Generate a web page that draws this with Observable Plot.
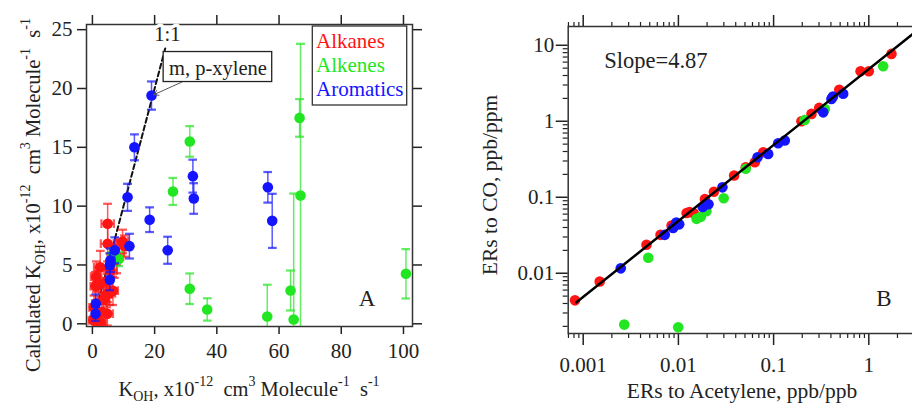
<!DOCTYPE html>
<html><head><meta charset="utf-8">
<script src="https://cdn.jsdelivr.net/npm/d3@7"></script>
<script src="https://cdn.jsdelivr.net/npm/@observablehq/plot@0.6"></script>
<style>
html,body{margin:0;padding:0;background:#fff;overflow:hidden;}
#wrap{display:flex;width:912px;height:405px;overflow:hidden;}
#wrap svg{flex:none;display:block;}
</style></head><body><div id="wrap"></div>
<script>
const FONT = "'Liberation Serif', 'Times New Roman', serif";
const categories = ["Alkanes", "Alkenes", "Aromatics"];
const colors = ["#ff1414", "#22e622", "#1414ff"];

// ---------- Panel A: measured vs calculated kOH ----------
// Alkanes: x, y, y-error, x-error
const alkKoh  = [0.3, 0.8, 2.0, 2.6, 0.5, 4.8, 3.0, 3.6, 1.0, 1.2, 2.5, 2.0, 4.3, 4.5, 5.5, 6.6, 5.8, 4.9, 4.9, 7.0, 7.9, 9.7, 10.3];
const alkCalc = [0.3, 0.4, 0.2, 0.15, 1.4, 0.85, 1.0, 2.0, 3.2, 4.0, 4.8, 3.3, 3.6, 2.5, 2.6, 2.8, 4.5, 8.5, 6.8, 5.3, 5.7, 7.0, 6.6];
const alkErr  = [0.9, 0.8, 0.9, 0.9, 1.0, 1.0, 1.0, 1.1, 1.2, 1.3, 1.4, 1.2, 1.2, 1.1, 1.0, 1.2, 1.4, 1.7, 1.5, 1.4, 1.4, 1.0, 0.9];
const alkXErr = [1.5, 1.5, 1.8, 1.8, 1.5, 1.8, 1.5, 1.8, 1.6, 1.7, 2.0, 1.8, 2.0, 1.8, 1.8, 1.6, 2.0, 2.0, 2.2, 1.8, 2.0, 1.8, 1.8];
// Alkenes
const aleKoh  = [6.5, 8.5, 25.9, 31.3, 31.3, 36.9, 56.2, 63.7, 64.7, 66.6, 66.9, 100.8];
const aleCalc = [5.9, 5.5, 11.25, 15.5, 2.98, 1.22, 0.62, 2.83, 0.37, 17.5, 10.9, 4.25];
const aleErr  = [0.5, 0.6, 1.15, 1.3, 1.3, 0.95, 2.7, 1.7, 10.7, 1.6, 12.9, 2.1];
// Aromatics
const aroKoh  = [1.0, 1.1, 5.6, 5.6, 5.8, 7.2, 11.9, 11.3, 13.5, 19.0, 18.4, 24.2, 32.3, 32.6, 56.4, 57.8];
const aroCalc = [0.85, 1.7, 3.75, 5.0, 5.4, 6.25, 6.6, 10.75, 15.0, 19.4, 8.85, 6.25, 12.55, 10.65, 11.6, 8.75];
const aroErr  = [0.6, 0.8, 0.9, 1.0, 1.0, 1.1, 1.05, 1.15, 1.1, 1.2, 1.05, 1.15, 1.4, 1.3, 1.3, 2.3];

const xTicksA = [0, 20, 40, 60, 80, 100];
const yTicksA = [0, 5, 10, 15, 20, 25];
const oneToOneEnd = 23.4;
// annotation anchors (data units of panel A)
const xyleneBox = {x1: 22.9, x2: 57.8, y1: 20.55, y2: 23.1, label: "m, p-xylene"};
const xylenePoint = {x: 19.7, y: 19.47, fromX: 28.8, fromY: 20.55};
const oneToOneLabel = {x: 24.1, y: 24.6, label: "1:1"};

// ---------- Panel B: emission ratios ----------
const alkAcet = [0.00082, 0.00149, 0.00462, 0.00649, 0.00848, 0.0122, 0.0131, 0.0145, 0.0190, 0.0236, 0.0385, 0.051, 0.0635, 0.0778, 0.196, 0.25, 0.301, 0.489, 0.819, 1.0, 1.73];
const alkCO   = [0.0044, 0.0078, 0.0237, 0.032, 0.0425, 0.062, 0.064, 0.0616, 0.095, 0.118, 0.193, 0.248, 0.289, 0.391, 1.0, 1.25, 1.5, 2.59, 4.55, 4.55, 7.7];
const aleAcet = [0.0027, 0.00482, 0.00995, 0.0155, 0.0172, 0.0197, 0.0299, 0.051, 0.212, 0.345, 1.415];
const aleCO   = [0.00211, 0.016, 0.00195, 0.052, 0.0552, 0.0655, 0.097, 0.237, 1.04, 1.45, 5.3];
const aroAcet = [0.00248, 0.00719, 0.0088, 0.0095, 0.0102, 0.0180, 0.0207, 0.029, 0.0678, 0.0877, 0.1117, 0.131, 0.332, 0.405, 0.42, 0.538];
const aroCO   = [0.0116, 0.032, 0.0395, 0.0465, 0.044, 0.0745, 0.081, 0.135, 0.336, 0.372, 0.514, 0.557, 1.31, 1.97, 2.12, 2.3];
const slope = 4.87;
const fitRange = [0.00085, 4];
const xMajorB = [0.001, 0.01, 0.1, 1];
const xMajorLabelsB = ["0.001", "0.01", "0.1", "1"];
const yMajorB = [0.01, 0.1, 1, 10];
const yMajorLabelsB = ["0.01", "0.1", "1", "10"];

// ---------- build tables ----------
const rowsA = [];
alkKoh.forEach((x, i) => rowsA.push({cat: "Alkanes", x, y: alkCalc[i], ey: alkErr[i], ex: alkXErr[i]}));
aleKoh.forEach((x, i) => rowsA.push({cat: "Alkenes", x, y: aleCalc[i], ey: aleErr[i], ex: 0}));
aroKoh.forEach((x, i) => rowsA.push({cat: "Aromatics", x, y: aroCalc[i], ey: aroErr[i], ex: 0}));
const rowsB = [];
alkAcet.forEach((x, i) => rowsB.push({cat: "Alkanes", x, y: alkCO[i]}));
aleAcet.forEach((x, i) => rowsB.push({cat: "Alkenes", x, y: aleCO[i]}));
aroAcet.forEach((x, i) => rowsB.push({cat: "Aromatics", x, y: aroCO[i]}));

const style = {fontFamily: FONT, fontSize: "21px", color: "#222", background: "white", overflow: "visible"};
const colorScale = {domain: categories, range: colors};
const labelOf = (ticks, labels) => d => {
  const i = ticks.findIndex(t => Math.abs(t - d) / t < 1e-6);
  return i < 0 ? "" : labels[i];
};

function catMarksA(cat) {
  const d = rowsA.filter(r => r.cat === cat);
  const marks = [
    Plot.link(d, {x1: "x", x2: "x", y1: r => r.y - r.ey, y2: r => r.y + r.ey, stroke: "cat", strokeOpacity: 0.7, strokeWidth: 1.5, markerStart: "tick", markerEnd: "tick", clip: true})
  ];
  if (cat === "Alkanes") {
    marks.push(Plot.link(d, {y1: "y", y2: "y", x1: r => r.x - r.ex, x2: r => r.x + r.ex, stroke: "cat", strokeOpacity: 0.7, strokeWidth: 1.5, markerStart: "tick", markerEnd: "tick", clip: true}));
  }
  marks.push(Plot.dot(d, {x: "x", y: "y", fill: "cat", r: 5.3, clip: true}));
  return marks;
}

const plotA = Plot.plot({
  width: 456, height: 405,
  marginLeft: 86, marginRight: 44, marginTop: 24, marginBottom: 79,
  x: {domain: [-1.9, 102.9]},
  y: {domain: [-0.23, 25.44]},
  color: colorScale,
  style,
  marks: [
    Plot.axisX({anchor: "bottom", ticks: xTicksA, tickSize: 8, tickPadding: 9, label: null, strokeWidth: 1.5}),
    Plot.axisX({anchor: "top", ticks: xTicksA, tickSize: 10, tickFormat: () => "", label: null, strokeWidth: 1.5}),
    Plot.axisY({anchor: "left", ticks: yTicksA, tickSize: 9, tickPadding: 5, label: null, strokeWidth: 1.5}),
    Plot.axisY({anchor: "right", ticks: yTicksA, tickSize: 9, tickFormat: () => "", label: null, strokeWidth: 1.5}),
    Plot.frame({stroke: "#333", strokeWidth: 1.5}),
    Plot.line([[0, 0], [oneToOneEnd, oneToOneEnd]], {stroke: "#111", strokeWidth: 2, strokeDasharray: "5,3"}),
    ...catMarksA("Alkanes"),
    ...catMarksA("Alkenes"),
    ...catMarksA("Aromatics"),
    Plot.arrow([xylenePoint], {x1: "fromX", y1: "fromY", x2: "x", y2: "y", stroke: "#555", strokeWidth: 1, headLength: 8}),
    Plot.rect([xyleneBox], {x1: "x1", x2: "x2", y1: "y1", y2: "y2", fill: "white", stroke: "#222", strokeWidth: 1.3}),
    Plot.text([xyleneBox], {x: d => (d.x1 + d.x2) / 2, y: d => (d.y1 + d.y2) / 2, text: "label", fill: "#222", fontSize: 20.5, dy: 1}),
    Plot.text([oneToOneLabel], {x: "x", y: "y", text: "label", fill: "#222", stroke: "white", strokeWidth: 7, fontSize: 20.5})
  ]
});

function minorTicks(lo, hi) {
  const out = [];
  for (let e = Math.floor(Math.log10(lo)); e <= Math.ceil(Math.log10(hi)); e++) {
    for (let m = 2; m <= 9; m++) { const v = m * Math.pow(10, e); if (v >= lo && v <= hi) out.push(v); }
  }
  return out;
}
const xDomB = [Math.pow(10, -3.1576), Math.pow(10, 0.501)];
const yDomB = [Math.pow(10, -2.793), Math.pow(10, 1.247)];

const plotB = Plot.plot({
  width: 480, height: 405,
  marginLeft: 111.7, marginRight: 20, marginTop: 26, marginBottom: 72,
  x: {type: "log", domain: xDomB},
  y: {type: "log", domain: yDomB},
  color: colorScale,
  style,
  marks: [
    Plot.axisX({anchor: "bottom", ticks: xMajorB, tickSize: 12, tickPadding: 12, tickFormat: labelOf(xMajorB, xMajorLabelsB), label: null, strokeWidth: 1.5}),
    Plot.axisX({anchor: "bottom", ticks: minorTicks(xDomB[0], xDomB[1]), tickSize: 5, tickFormat: () => "", label: null, strokeWidth: 1.2}),
    Plot.axisX({anchor: "top", ticks: xMajorB, tickSize: 12, tickFormat: () => "", label: null, strokeWidth: 1.5}),
    Plot.axisX({anchor: "top", ticks: minorTicks(xDomB[0], xDomB[1]), tickSize: 5, tickFormat: () => "", label: null, strokeWidth: 1.2}),
    Plot.axisY({anchor: "left", ticks: yMajorB, tickSize: 12, tickPadding: 2, tickFormat: labelOf(yMajorB, yMajorLabelsB), label: null, strokeWidth: 1.5}),
    Plot.axisY({anchor: "left", ticks: minorTicks(yDomB[0], yDomB[1]), tickSize: 5, tickFormat: () => "", label: null, strokeWidth: 1.2}),
    Plot.frame({stroke: "#333", strokeWidth: 1.5}),
    Plot.dot(rowsB.filter(r => r.cat === "Alkanes"), {x: "x", y: "y", fill: "cat", r: 5.3}),
    Plot.dot(rowsB.filter(r => r.cat === "Alkenes"), {x: "x", y: "y", fill: "cat", r: 5.3}),
    Plot.dot(rowsB.filter(r => r.cat === "Aromatics"), {x: "x", y: "y", fill: "cat", r: 5.3}),
    Plot.line(fitRange.map(x => [x, slope * x]), {stroke: "#000", strokeWidth: 2.5, clip: true})
  ]
});

const wrap = document.getElementById("wrap");
wrap.appendChild(plotA);
wrap.appendChild(plotB);

// ---------- rich text helpers ----------
function rich(parent, parts, attrs) {
  const t = parent.append("text").attr("font-family", FONT).attr("font-size", 20.5).attr("fill", "#222").style("white-space", "pre");
  Object.entries(attrs).forEach(([k, v]) => t.attr(k, v));
  let shift = 0;
  parts.forEach(([s, kind]) => {
    const target = kind === "sup" ? -10 : kind === "sub" ? 5 : 0;
    const ts = t.append("tspan").text(s).attr("dy", target - shift);
    if (kind !== "n") ts.attr("font-size", 14);
    shift = target;
  });
  return t;
}
const sA = d3.select(plotA);
rich(sA, [["K", "n"], ["OH", "sub"], [", x10", "n"], ["-12", "sup"], ["  cm", "n"], ["3", "sup"], [" Molecule", "n"], ["-1", "sup"], ["  s", "n"], ["-1", "sup"]],
  {x: 249, y: 396, "text-anchor": "middle"});
rich(sA, [["Calculated K", "n"], ["OH", "sub"], [", x10", "n"], ["-12", "sup"], ["  cm", "n"], ["3", "sup"], [" Molecule", "n"], ["-1", "sup"], ["  s", "n"], ["-1", "sup"]],
  {transform: "translate(40,195) rotate(-90)", "text-anchor": "middle"});
// legend
const lg = sA.append("g");
lg.append("rect").attr("x", 312.3).attr("y", 26).attr("width", 94.4).attr("height", 79).attr("fill", "white").attr("stroke", "#333").attr("stroke-width", 1.3);
categories.forEach((c, i) => lg.append("text").attr("x", 316).attr("y", 48 + 24 * i).attr("text-anchor", "start").attr("font-family", FONT).attr("font-size", 21).attr("fill", colors[i]).text(c));
sA.append("text").attr("x", 367).attr("y", 306).attr("text-anchor", "middle").attr("font-family", FONT).attr("font-size", 23).attr("fill", "#222").text("A");

const sB = d3.select(plotB);
rich(sB, [["ERs to Acetylene, ppb/ppb", "n"]], {x: 286, y: 398, "text-anchor": "middle", "font-size": 21.5});
rich(sB, [["ERs to CO, ppb/ppm", "n"]], {transform: "translate(41,185) rotate(-90)", "text-anchor": "middle", "font-size": 21.5});
sB.append("text").attr("x", 148.3).attr("y", 68).attr("text-anchor", "start").attr("font-family", FONT).attr("font-size", 22.5).attr("fill", "#222").text("Slope=4.87");
sB.append("text").attr("x", 428).attr("y", 306).attr("text-anchor", "middle").attr("font-family", FONT).attr("font-size", 23).attr("fill", "#222").text("B");
</script></body></html>
